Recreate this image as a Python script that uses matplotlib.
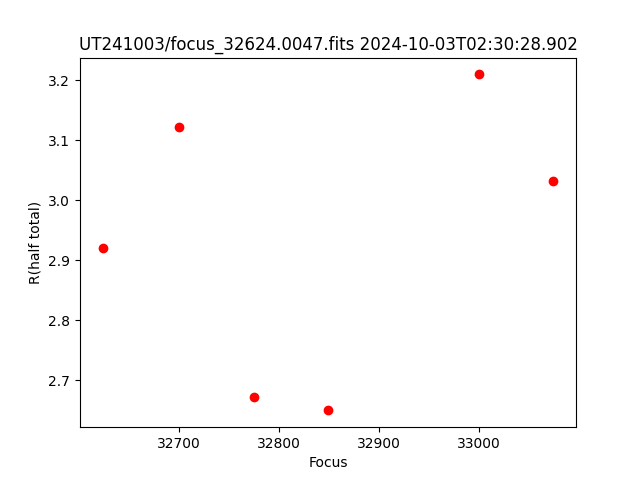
import matplotlib
matplotlib.use("Agg")
import matplotlib.pyplot as plt

# focus positions and measured half-total radius
focus = [32624, 32700, 32775, 32849, 33000, 33074]
r_half = [2.920, 3.122, 2.673, 2.650, 3.210, 3.032]

fig, ax = plt.subplots(figsize=(6.4, 4.8), dpi=100)
ax.plot(focus, r_half, 'ro')
ax.set_xlabel('Focus')
ax.set_ylabel('R(half total)')
ax.set_title('UT241003/focus_32624.0047.fits 2024-10-03T02:30:28.902')
fig.savefig('out.png')
